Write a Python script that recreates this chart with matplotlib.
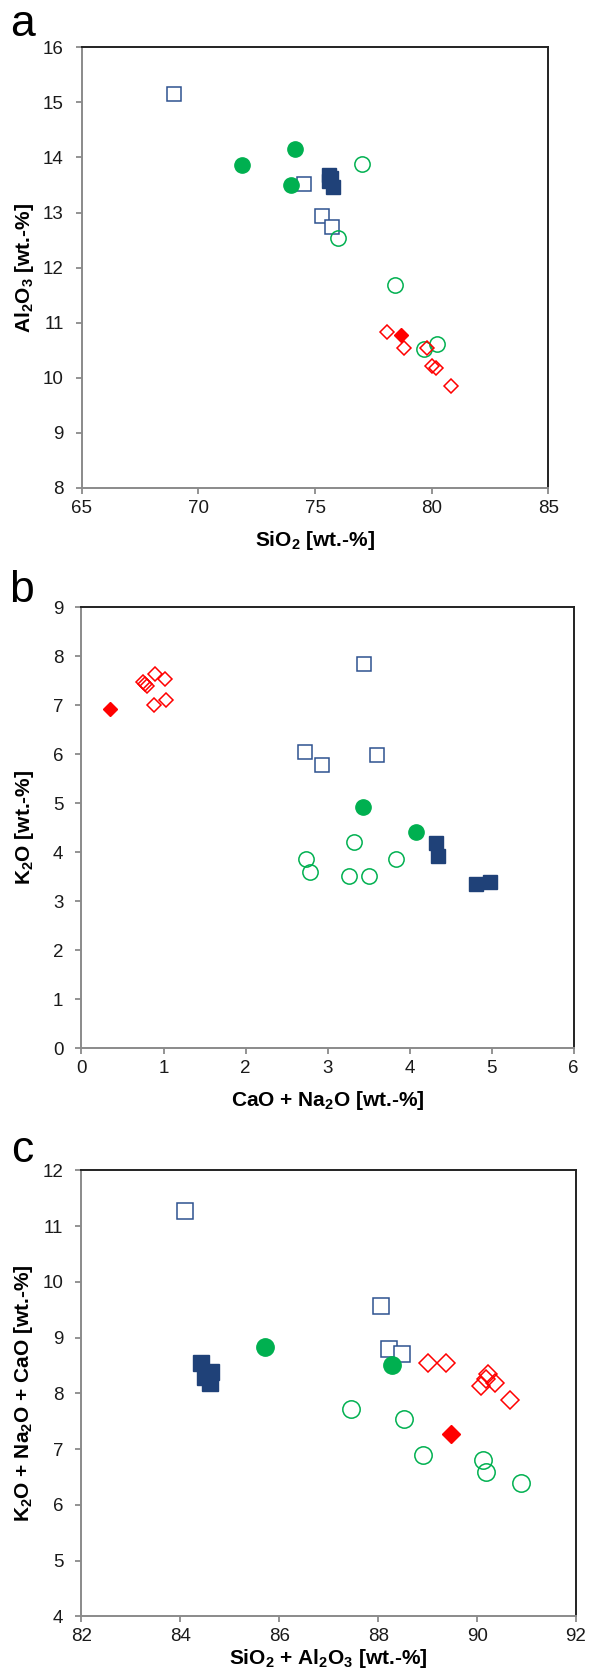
import matplotlib
matplotlib.use("Agg")
import matplotlib.pyplot as plt

plt.rcParams["font.family"] = ["Liberation Sans", "DejaVu Sans"]
plt.rcParams["mathtext.fontset"] = "custom"
plt.rcParams["mathtext.rm"] = "Liberation Sans:bold"
plt.rcParams["mathtext.it"] = "Liberation Sans:bold"
plt.rcParams["mathtext.bf"] = "Liberation Sans:bold"

W, H = 590, 1673

BLUE_OPEN = "#2E5290"
BLUE_FILL = "#1F4178"
GREEN = "#00B050"
RED = "#FF0000"

# panel a: SiO2 vs Al2O3
a_open_sq_x = [68.94, 74.51, 75.30, 75.75]
a_open_sq_y = [15.16, 13.51, 12.93, 12.74]
a_fill_sq_x = [75.60, 75.62, 75.76, 75.70]
a_fill_sq_y = [13.69, 13.57, 13.47, 13.62]
a_open_ci_x = [77.00, 75.99, 78.42, 79.66, 80.25]
a_open_ci_y = [13.89, 12.54, 11.68, 10.53, 10.62]
a_fill_ci_x = [71.85, 74.16, 73.95]
a_fill_ci_y = [13.86, 14.15, 13.50]
a_open_di_x = [78.08, 78.81, 79.80, 80.01, 80.17, 80.82]
a_open_di_y = [10.83, 10.54, 10.54, 10.21, 10.18, 9.85]
a_fill_di_x = [78.68]
a_fill_di_y = [10.78]

# panel b: CaO + Na2O vs K2O
b_open_sq_x = [3.44, 2.73, 2.93, 3.60]
b_open_sq_y = [7.83, 6.05, 5.77, 5.98]
b_fill_sq_x = [4.32, 4.35, 4.81, 4.98]
b_fill_sq_y = [4.19, 3.93, 3.36, 3.39]
b_open_ci_x = [3.32, 2.74, 2.78, 3.26, 3.50, 3.84]
b_open_ci_y = [4.21, 3.86, 3.60, 3.52, 3.51, 3.86]
b_fill_ci_x = [3.43, 4.08]
b_fill_ci_y = [4.93, 4.42]
b_open_di_x = [0.75, 0.78, 0.80, 0.90, 1.02, 0.89, 1.03]
b_open_di_y = [7.47, 7.43, 7.39, 7.64, 7.53, 7.00, 7.11]
b_fill_di_x = [0.35]
b_fill_di_y = [6.92]

# panel c: SiO2 + Al2O3 vs K2O + Na2O + CaO
c_open_sq_x = [84.10, 88.05, 88.22, 88.49]
c_open_sq_y = [11.28, 9.57, 8.80, 8.71]
c_fill_sq_x = [84.41, 84.62, 84.59, 84.50]
c_fill_sq_y = [8.54, 8.39, 8.18, 8.30]
c_open_ci_x = [87.45, 88.53, 88.91, 90.12, 90.17, 90.88]
c_open_ci_y = [7.72, 7.54, 6.90, 6.81, 6.59, 6.39]
c_fill_ci_x = [85.71, 88.28]
c_fill_ci_y = [8.83, 8.51]
c_open_di_x = [89.00, 89.37, 90.22, 90.19, 90.37, 90.07, 90.67]
c_open_di_y = [8.55, 8.54, 8.34, 8.26, 8.18, 8.13, 7.89]
c_fill_di_x = [89.47]
c_fill_di_y = [7.27]


def px_axes(fig, left, top, right, bottom):
    # pixel box (from top-left) -> axes in figure fractions
    return fig.add_axes([left / W, 1 - bottom / H, (right - left) / W, (bottom - top) / H])


def draw_points(ax, d, sq, ci, di):
    ax.plot(d["osx"], d["osy"], ls="none", marker="s", ms=sq, mfc="white",
            mec=BLUE_OPEN, mew=1.1)
    ax.plot(d["fsx"], d["fsy"], ls="none", marker="s", ms=sq, mfc=BLUE_FILL,
            mec=BLUE_FILL, mew=1.0)
    ax.plot(d["ocx"], d["ocy"], ls="none", marker="o", ms=ci, mfc="none",
            mec=GREEN, mew=1.1)
    ax.plot(d["fcx"], d["fcy"], ls="none", marker="o", ms=ci, mfc=GREEN,
            mec=GREEN, mew=1.0)
    ax.plot(d["odx"], d["ody"], ls="none", marker="D", ms=di, mfc="none",
            mec=RED, mew=1.1)
    ax.plot(d["fdx"], d["fdy"], ls="none", marker="D", ms=di, mfc=RED,
            mec=RED, mew=1.0)


def style_axes(fig, ax, box, letter, letter_y, xlabel, xlabel_y, ylabel,
               xlim, ylim, xticks, yticks):
    left, top, right, bottom = box
    ax.set_xlim(*xlim)
    ax.set_ylim(*ylim)
    ax.set_xticks(xticks)
    ax.set_yticks(yticks)
    for side in ["left", "bottom"]:
        ax.spines[side].set_color("#8a8a8a")
        ax.spines[side].set_linewidth(1.4)
    for side in ["top", "right"]:
        ax.spines[side].set_color("#222222")
        ax.spines[side].set_linewidth(1.4)
    ax.tick_params(direction="out", length=4.5, width=1.3, color="#8a8a8a",
                   labelsize=13.5, labelcolor="#1a1a1a")
    ax.tick_params(axis="x", pad=4)
    ax.tick_params(axis="y", pad=8.5)

    fig.text(((left + right) / 2) / W, 1 - xlabel_y / H, xlabel, fontsize=15,
             fontweight="bold", ha="center", va="center")
    fig.text(24 / W, 1 - ((top + bottom) / 2) / H, ylabel, fontsize=15,
             fontweight="bold", ha="center", va="center", rotation=90)
    fig.text(22 / W, 1 - letter_y / H, letter, fontsize=32,
             ha="center", va="center")


def main():
    fig = plt.figure(figsize=(W / 100, H / 100), dpi=100)

    box_a = (81.7, 47.3, 548.3, 488.0)
    ax_a = px_axes(fig, *box_a)
    draw_points(ax_a, dict(osx=a_open_sq_x, osy=a_open_sq_y, fsx=a_fill_sq_x, fsy=a_fill_sq_y,
                           ocx=a_open_ci_x, ocy=a_open_ci_y, fcx=a_fill_ci_x, fcy=a_fill_ci_y,
                           odx=a_open_di_x, ody=a_open_di_y, fdx=a_fill_di_x, fdy=a_fill_di_y),
                sq=10.5, ci=11, di=7.3)
    style_axes(fig, ax_a, box_a, "a", 24, "SiO$_2$ [wt.-%]", 540, "Al$_2$O$_3$ [wt.-%]",
               (65, 85), (8, 16), range(65, 86, 5), range(8, 17))

    box_b = (81.5, 607.1, 573.6, 1048.2)
    ax_b = px_axes(fig, *box_b)
    draw_points(ax_b, dict(osx=b_open_sq_x, osy=b_open_sq_y, fsx=b_fill_sq_x, fsy=b_fill_sq_y,
                           ocx=b_open_ci_x, ocy=b_open_ci_y, fcx=b_fill_ci_x, fcy=b_fill_ci_y,
                           odx=b_open_di_x, ody=b_open_di_y, fdx=b_fill_di_x, fdy=b_fill_di_y),
                sq=10.5, ci=11, di=7.3)
    style_axes(fig, ax_b, box_b, "b", 590, "CaO + Na$_2$O [wt.-%]", 1101, "K$_2$O [wt.-%]",
               (0, 6), (0, 9), range(0, 7), range(0, 10))

    box_c = (81.5, 1170.4, 576.0, 1616.4)
    ax_c = px_axes(fig, *box_c)
    draw_points(ax_c, dict(osx=c_open_sq_x, osy=c_open_sq_y, fsx=c_fill_sq_x, fsy=c_fill_sq_y,
                           ocx=c_open_ci_x, ocy=c_open_ci_y, fcx=c_fill_ci_x, fcy=c_fill_ci_y,
                           odx=c_open_di_x, ody=c_open_di_y, fdx=c_fill_di_x, fdy=c_fill_di_y),
                sq=12, ci=12.5, di=9.3)
    style_axes(fig, ax_c, box_c, "c", 1150, "SiO$_2$ + Al$_2$O$_3$ [wt.-%]", 1659,
               "K$_2$O + Na$_2$O + CaO [wt.-%]",
               (82, 92), (4, 12), range(82, 93, 2), range(4, 13))

    fig.savefig("out.png", dpi=100)
    plt.close(fig)


if __name__ == "__main__":
    main()
